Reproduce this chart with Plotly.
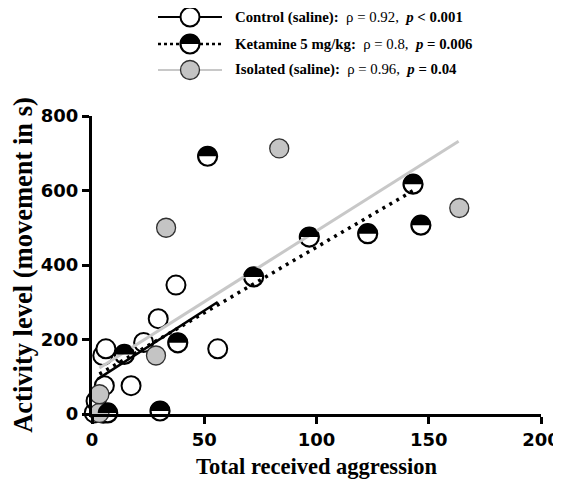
import plotly.graph_objects as go

# ---- data ----
control_x = [1, 5, 1.8, 5.5, 17.4, 4.8, 6.2, 23, 29.5, 37.4, 56]
control_y = [3, 2, 35, 76, 76, 157, 175, 192, 256, 346, 175]

ketamine_x = [7, 14.4, 30.3, 38.2, 51.5, 72, 96.8, 122.8, 143, 146.5]
ketamine_y = [3, 160, 8, 191, 692, 368, 475, 484, 617, 507]

isolated_x = [3.3, 3.3, 28.5, 33, 83.4, 163.6]
isolated_y = [3, 53, 157, 500, 713, 553]

# regression fits: slope, intercept, x start, x end
control_fit = [3.87, 84, 2.5, 56]
ketamine_fit = [3.525, 95.4, 3.3, 143]
isolated_fit = [3.805, 111, 3.3, 163.3]

x_ticks = [0, 50, 100, 150, 200]
y_ticks = [0, 200, 400, 600, 800]

legend_labels = [
    "<b>Control (saline):</b>  ρ = 0.92,  <b><i>p</i> &lt; 0.001</b>",
    "<b>Ketamine 5 mg/kg:</b>  ρ = 0.8,  <b><i>p</i> = 0.006</b>",
    "<b>Isolated (saline):</b>  ρ = 0.96,  <b><i>p</i> = 0.04</b>",
]

GRAY_FILL = "#c4c4c4"
GRAY_LINE = "#c8c8c8"
MS = 19

fig = go.Figure()

def fit_line(fit):
    s, b, x0, x1 = fit
    return [x0, x1], [s * x0 + b, s * x1 + b]

# markers
fig.add_trace(go.Scatter(x=control_x, y=control_y, mode="markers", cliponaxis=False,
                         marker=dict(size=MS, color="white", line=dict(color="black", width=2)),
                         showlegend=False))
fig.add_trace(go.Scatter(x=ketamine_x, y=ketamine_y, mode="markers", cliponaxis=False,
                         marker=dict(size=MS, color="white", line=dict(color="black", width=2.2)),
                         showlegend=False))
fig.add_trace(go.Scatter(x=isolated_x, y=isolated_y, mode="markers", cliponaxis=False,
                         marker=dict(size=MS, color=GRAY_FILL, line=dict(color="#303030", width=1.3)),
                         showlegend=False))

# regression lines
lx, ly = fit_line(control_fit)
fig.add_trace(go.Scatter(x=lx, y=ly, mode="lines", line=dict(color="black", width=2.5), showlegend=False))
lx, ly = fit_line(ketamine_fit)
fig.add_trace(go.Scatter(x=lx, y=ly, mode="lines", line=dict(color="black", width=3.5, dash="3px,5px"),
                         showlegend=False))
lx, ly = fit_line(isolated_fit)
fig.add_trace(go.Scatter(x=lx, y=ly, mode="lines", line=dict(color=GRAY_LINE, width=3), showlegend=False))

# half-filled (top black) overlay for ketamine markers
r = 10.0
k = 0.5523 * r
half_path = (f"M {-r},0 C {-r},{k} {-k},{r} 0,{r} C {k},{r} {r},{k} {r},0 Z")
shapes = []
for xv, yv in zip(ketamine_x, ketamine_y):
    shapes.append(dict(type="path", xref="x", yref="y", xsizemode="pixel", ysizemode="pixel",
                       xanchor=xv, yanchor=yv, path=half_path, fillcolor="black",
                       line=dict(width=0), layer="above"))

# ---- layout geometry (page body has an 8px margin) ----
OFF = 8
W, H = 561 - OFF, 487 - OFF
L, R, T, B = 92 - OFF, 20, 116 - OFF, 73
pw, ph = W - L - R, H - T - B
def px(x):
    return (x - OFF - L) / pw
def py(y):
    return (H - B - (y - OFF)) / ph

# ---- manual legend (paper coords) ----
rows_y = [17, 44, 70]
line_x0, line_x1, mark_x, text_x = 158, 222, 190, 233
legend_line_styles = [dict(color="black", width=2),
                      dict(color="black", width=2.5, dash="dot"),
                      dict(color=GRAY_LINE, width=2)]
legend_marker_styles = [("white", "black", 2), ("white", "black", 2.2), (GRAY_FILL, "#303030", 1.3)]
rr = MS / 2
for i, yy in enumerate(rows_y):
    shapes.append(dict(type="line", xref="paper", yref="paper", x0=px(line_x0), x1=px(line_x1),
                       y0=py(yy), y1=py(yy), line=legend_line_styles[i], layer="above"))
    fc, lc, lw = legend_marker_styles[i]
    shapes.append(dict(type="circle", xref="paper", yref="paper", xsizemode="pixel", ysizemode="pixel",
                       xanchor=px(mark_x), yanchor=py(yy), x0=-rr, x1=rr, y0=-rr, y1=rr,
                       fillcolor=fc, line=dict(color=lc, width=lw), layer="above"))
    if i == 1:
        shapes.append(dict(type="path", xref="paper", yref="paper", xsizemode="pixel", ysizemode="pixel",
                           xanchor=px(mark_x), yanchor=py(yy), path=half_path, fillcolor="black",
                           line=dict(width=0), layer="above"))
    fig.add_annotation(x=px(text_x), y=py(yy), xref="paper", yref="paper", xanchor="left", yanchor="middle",
                       text=legend_labels[i], showarrow=False,
                       font=dict(family="Liberation Serif", size=14.8, color="black"))

fig.update_layout(
    width=W, height=H,
    margin=dict(l=L, r=R, t=T, b=B, autoexpand=False),
    paper_bgcolor="white", plot_bgcolor="white",
    shapes=shapes,
    showlegend=False,
    xaxis=dict(range=[0, 200], tickvals=x_ticks, ticks="outside", ticklen=7, tickwidth=3,
               tickcolor="black", showline=True, linecolor="black", linewidth=3,
               showgrid=False, zeroline=False, automargin=False,
               tickfont=dict(family="DejaVu Sans", size=18, color="black", weight="bold"),
               title=dict(text="<b>Total received aggression</b>", standoff=10,
                          font=dict(family="Liberation Serif", size=22.5, color="black"))),
    yaxis=dict(range=[0, 800], tickvals=y_ticks, ticks="outside", ticklen=7, tickwidth=3,
               tickcolor="black", showline=True, linecolor="black", linewidth=3,
               showgrid=False, zeroline=False, automargin=False,
               tickfont=dict(family="DejaVu Sans", size=18, color="black", weight="bold"),
               title=dict(text="<b>Activity level (movement in s)</b>", standoff=8,
                          font=dict(family="Liberation Serif", size=26.5, color="black"))),
)

fig.write_html("out.html")
